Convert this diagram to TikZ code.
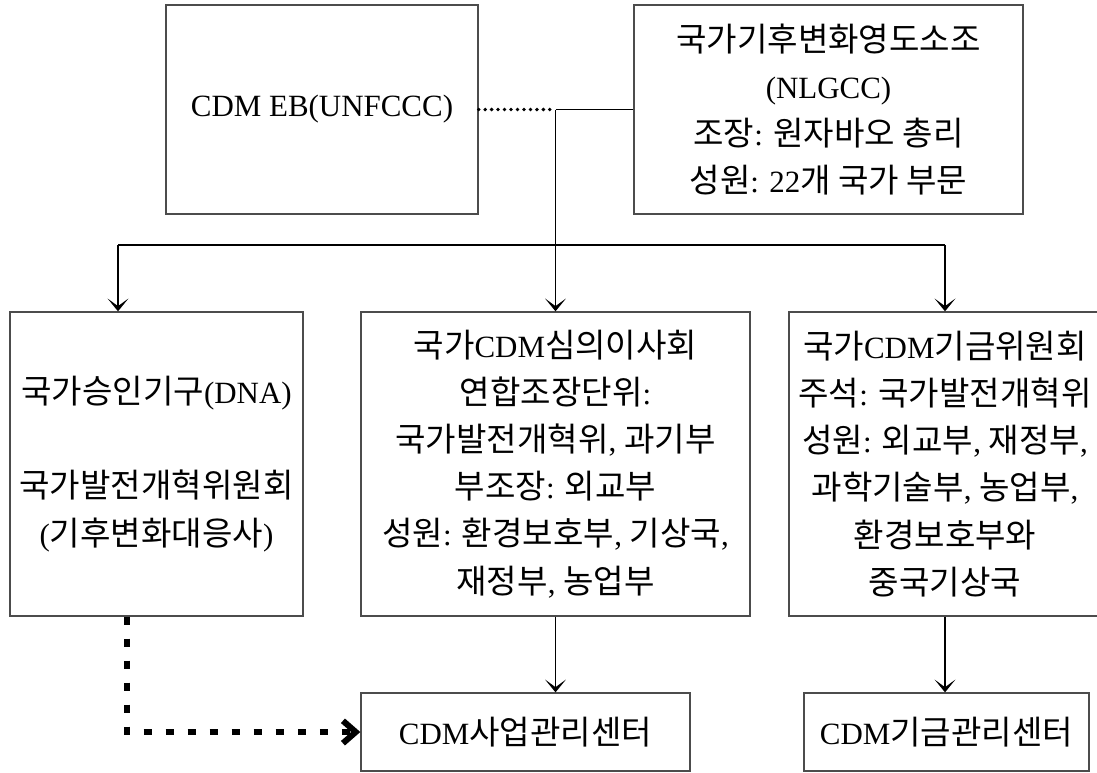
\documentclass[tikz,border=0pt]{standalone}
\usepackage{fontspec}
\setmainfont{Liberation Serif}
\newfontfamily\korean[Scale=1.07]{Noto Sans CJK KR}
\usepackage{tikz}
\usetikzlibrary{arrows.meta,calc}
\newcommand{\ko}[1]{{\korean #1}}
\tikzset{
  box/.style={draw=black!70, line width=0.9pt, inner sep=0pt, align=center,
    font=\fontsize{22}{33.5}\selectfont},
  link/.style={line width=1.1pt},
  linkarrow/.style={link, -{Stealth[length=3.2mm,width=5.2mm,inset=1.9mm]}},
  dotlink/.style={line width=2.7pt, line cap=round, dash pattern=on 0pt off 4.6pt},
  dashlink/.style={line width=4.3pt, dash pattern=on 0.2cm off 0.35cm,
    -{Straight Barb[length=3.2mm,width=5.6mm]}}
}
\begin{document}
\begin{tikzpicture}[x=0.025cm, y=-0.025cm]
			\useasboundingbox (0,0) rectangle (1097,772);
			% top row
			\node[box, minimum width=7.8cm, minimum height=5.225cm] (eb) at (322,109.5) {CDM EB(UNFCCC)};
			\node[box, minimum width=9.725cm, minimum height=5.225cm] (nlgcc) at (828.5,109.5)
				{\ko{국가기후변화영도소조}\\(NLGCC)\\\ko{조장}: \ko{원자바오 총리}\\\ko{성원}: 22\ko{개 국가 부문}};
			% middle row
			\node[box, minimum width=7.325cm, minimum height=7.6cm] (dna) at (156.5,464)
				{\ko{국가승인기구}(DNA)\\ ~ \\\ko{국가발전개혁위원회}\\(\ko{기후변화대응사})};
			\node[box, minimum width=9.725cm, minimum height=7.6cm] (council) at (555.5,464)
				{\ko{국가}CDM\ko{심의이사회}\\\ko{연합조장단위}:\\\ko{국가발전개혁위}, \ko{과기부}\\\ko{부조장}: \ko{외교부}\\\ko{성원}: \ko{환경보호부}, \ko{기상국},\\\ko{재정부}, \ko{농업부}};
			\node[box, minimum width=7.8cm, minimum height=7.6cm] (fund) at (945,464)
				{\ko{국가}CDM\ko{기금위원회}\\\ko{주석}: \ko{국가발전개혁위}\\\ko{성원}: \ko{외교부}, \ko{재정부},\\\ko{과학기술부}, \ko{농업부},\\\ko{환경보호부와}\\\ko{중국기상국}};
			% bottom row
			\node[box, minimum width=8.225cm, minimum height=1.95cm] (pmc) at (525.5,732) {CDM\ko{사업관리센터}};
			\node[box, minimum width=7.125cm, minimum height=1.95cm] (fmc) at (946.5,732) {CDM\ko{기금관리센터}};
			% connectors
			\coordinate (j) at (council.north |- eb.east);
			\coordinate (bl) at (118,245);
			\coordinate (br) at (fund.north |- bl);
			\draw[dotlink] (eb.east) -- (j);
			\draw[link] (nlgcc.west |- j) -- (j);
			\draw[linkarrow] (j) -- (council.north);
			\draw[link] (bl) -- (br);
			\draw[linkarrow] (bl) -- (bl |- dna.north);
			\draw[linkarrow] (br) -- (fund.north);
			\draw[linkarrow] (council.south) -- (council.south |- pmc.north);
			\draw[linkarrow] (fund.south) -- (fund.south |- fmc.north);
			\draw[dashlink] (dna.south -| 127,0) -- (127,0 |- pmc.west) -- (pmc.west);
		\end{tikzpicture}
\end{document}
